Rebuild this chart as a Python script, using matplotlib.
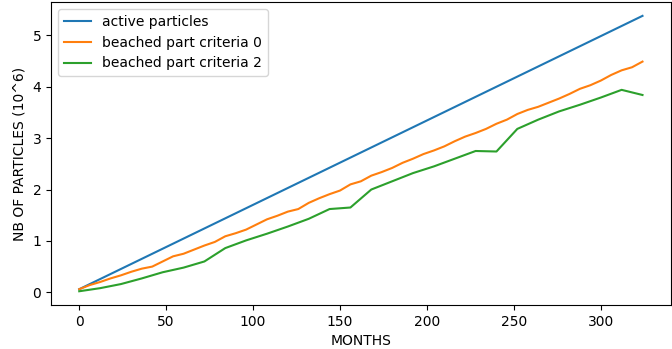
import matplotlib
matplotlib.use("Agg")
import matplotlib.pyplot as plt
import numpy as np

# active particles grow linearly over the whole run
active_months = [0, 324]
active = [0.06, 5.38]

# beached, criteria 0 (read every 6 months)
crit0_months = np.arange(0, 325, 6)
crit0 = [0.06, 0.14, 0.20, 0.27, 0.33, 0.40, 0.46, 0.50, 0.60, 0.70,
         0.75, 0.83, 0.91, 0.98, 1.09, 1.15, 1.22, 1.32, 1.42, 1.49,
         1.57, 1.62, 1.74, 1.83, 1.91, 1.98, 2.10, 2.16, 2.27, 2.34,
         2.42, 2.52, 2.60, 2.69, 2.76, 2.84, 2.94, 3.03, 3.10, 3.18,
         3.28, 3.36, 3.47, 3.55, 3.61, 3.69, 3.77, 3.86, 3.96, 4.03,
         4.12, 4.23, 4.32, 4.38, 4.49]

# beached, criteria 2 (yearly)
crit2_months = np.arange(0, 325, 12)
crit2 = [0.02, 0.08, 0.16, 0.27, 0.39, 0.48, 0.60, 0.86, 1.01, 1.14,
         1.28, 1.43, 1.62, 1.65, 2.00, 2.16, 2.32, 2.45, 2.60, 2.75,
         2.74, 3.18, 3.36, 3.52, 3.65, 3.79, 3.94, 3.84]

fig = plt.figure(figsize=(6.72, 3.49), dpi=100)
ax = fig.add_axes([0.076, 0.126, 0.922, 0.868])
ax.plot(active_months, active, label='active particles')
ax.plot(crit0_months, crit0, label='beached part criteria 0')
ax.plot(crit2_months, crit2, label='beached part criteria 2')
ax.set_xlabel('MONTHS')
ax.set_ylabel('NB OF PARTICLES (10^6)')
ax.legend(loc='upper left')
fig.savefig('out.png', dpi=100)
